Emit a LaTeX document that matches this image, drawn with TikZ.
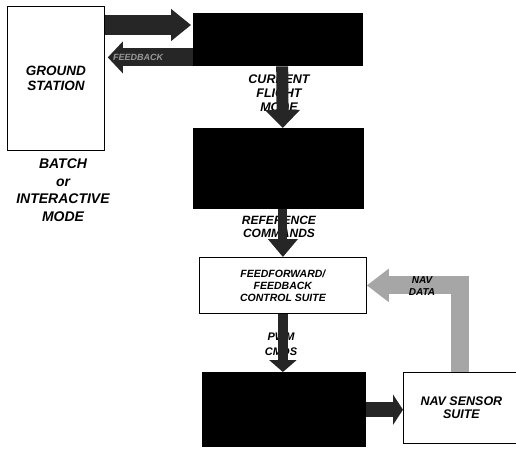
\documentclass[tikz,border=0pt]{standalone}
\usepackage{fontspec}
\setsansfont{Liberation Sans}
\usetikzlibrary{arrows.meta}

\begin{document}
\begin{tikzpicture}[x=1pt,y=-1pt,
	box/.style={draw,thick,anchor=north west,align=center,inner sep=0pt},
	blackbox/.style={fill=black,anchor=north west,inner sep=0pt},
	lbl/.style={align=center,inner sep=0pt,font=\sffamily\bfseries\itshape\fontsize{12}{13}\selectfont},
	fat/.style={black!85,line join=miter}]
	\useasboundingbox (0,0) rectangle (516,449);
	% boxes
	\node[box,minimum width=97pt,minimum height=144pt,font=\sffamily\bfseries\itshape\fontsize{13.5}{14.5}\selectfont] (gs) at (7,6) {GROUND\\STATION};
	\node[blackbox,minimum width=170pt,minimum height=53pt] (top) at (193,13) {};
	\node[blackbox,minimum width=171pt,minimum height=81pt] (mid) at (193,128) {};
	\node[box,minimum width=167pt,minimum height=56pt,font=\sffamily\bfseries\itshape\fontsize{10.5}{12}\selectfont] (ctrl) at (199,257) {FEEDFORWARD/\\FEEDBACK\\CONTROL SUITE};
	\node[blackbox,minimum width=164pt,minimum height=75pt] (bot) at (202,372) {};
	\node[box,minimum width=116pt,minimum height=71pt,font=\sffamily\bfseries\itshape\fontsize{12.5}{13.5}\selectfont] (nav) at (403,372) {NAV SENSOR\\SUITE};
	% labels
	\node[lbl,font=\sffamily\bfseries\itshape\fontsize{14}{17.5}\selectfont] (mode) at (63,190) {BATCH\\or\\INTERACTIVE\\MODE};
	\node[lbl,font=\sffamily\bfseries\itshape\fontsize{12.5}{14}\selectfont] (cfm) at (279,93) {CURRENT\\FLIGHT\\MODE};
	\node[lbl] (refc) at (279,227) {REFERENCE\\COMMANDS};
	\node[lbl,font=\sffamily\bfseries\itshape\fontsize{11}{15}\selectfont] (pwm) at (281,344) {PWM\\CMDS};
	% arrows
	\coordinate (in) at ([yshift=-12pt]top.north west);
	\coordinate (fb) at ([yshift=9pt]top.south west);
	\draw[fat,line width=20pt,-{Triangle[width=31pt,length=20pt]}] (gs.east |- in) -- ([xshift=-2pt]in);
	\draw[fat,line width=18pt,-{Triangle[width=31pt,length=15pt]}] (fb) -- ([xshift=3pt]fb -| gs.east);
	\node[lbl,font=\sffamily\bfseries\itshape\fontsize{9}{10}\selectfont,text=black!40,anchor=west] (fbl) at (113,57) {FEEDBACK};
	\draw[fat,line width=12pt,-{Triangle[width=34pt,length=18pt]}] ([xshift=4pt]top.south) -- ([xshift=4pt]mid.north);
	\draw[fat,line width=9pt,-{Triangle[width=29pt,length=18pt]}] (mid.south -| ctrl.north) -- (ctrl.north);
	\draw[fat,line width=10pt,-{Triangle[width=27pt,length=12pt]}] (ctrl.south) -- (bot.north -| ctrl.south);
	\draw[fat,line width=15pt,-{Triangle[width=30pt,length=10pt]}] (bot.east) -- (bot.east -| nav.west);
	\draw[black!35,line width=18pt,line join=miter,-{Triangle[width=32pt,length=22pt]}] ([xshift=-1pt]nav.north) |- (ctrl.east);
	\node[lbl,font=\sffamily\bfseries\itshape\fontsize{10}{11.5}\selectfont] (navd) at (422,286) {NAV\\DATA};
\end{tikzpicture}
\end{document}
